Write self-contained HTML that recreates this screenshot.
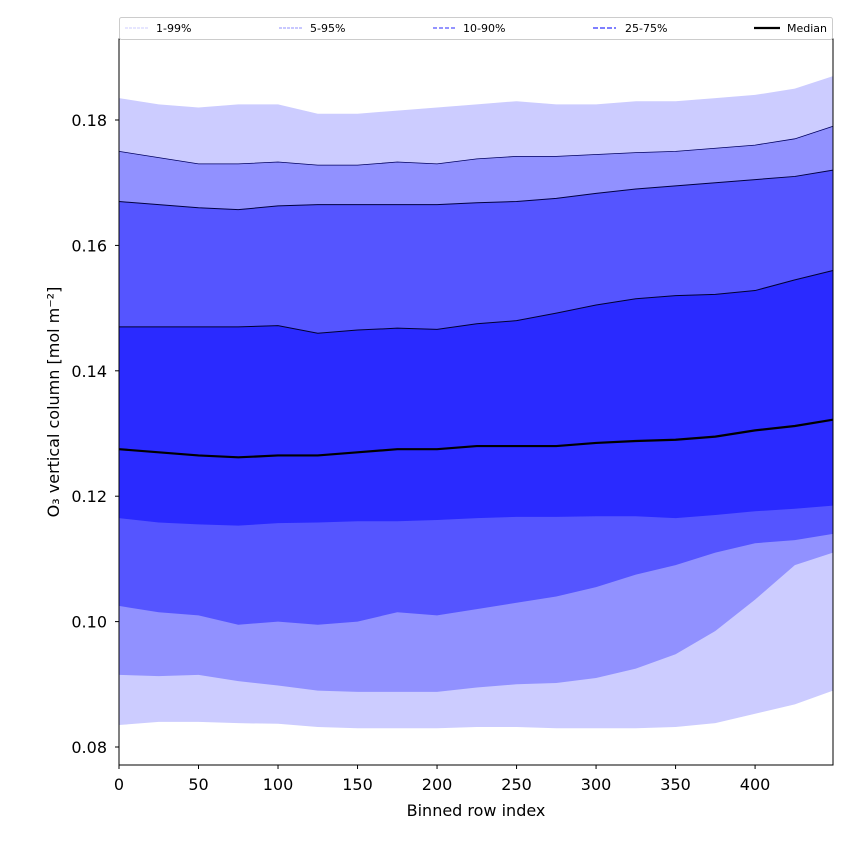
<!DOCTYPE html>
<html><head><meta charset="utf-8"><style>
body{margin:0;background:#fff}
svg text{font-family:"DejaVu Sans","Liberation Sans",sans-serif}
</style></head><body>
<svg id="c" width="850" height="850"></svg>
<script>
const xs=[0,25,50,75,100,125,150,175,200,225,250,275,300,325,350,375,400,425,449];
const p99=[0.1835,0.1825,0.182,0.1825,0.1825,0.181,0.181,0.1815,0.182,0.1825,0.183,0.1825,0.1825,0.183,0.183,0.1835,0.184,0.185,0.187];
const p95=[0.175,0.174,0.173,0.173,0.1733,0.1728,0.1728,0.1733,0.173,0.1738,0.1742,0.1742,0.1745,0.1748,0.175,0.1755,0.176,0.177,0.179];
const p90=[0.167,0.1665,0.166,0.1657,0.1663,0.1665,0.1665,0.1665,0.1665,0.1668,0.167,0.1675,0.1683,0.169,0.1695,0.17,0.1705,0.171,0.172];
const p75=[0.147,0.147,0.147,0.147,0.1472,0.146,0.1465,0.1468,0.1466,0.1475,0.148,0.1492,0.1505,0.1515,0.152,0.1522,0.1528,0.1545,0.156];
const p50=[0.1275,0.127,0.1265,0.1262,0.1265,0.1265,0.127,0.1275,0.1275,0.128,0.128,0.128,0.1285,0.1288,0.129,0.1295,0.1305,0.1312,0.1322];
const p25=[0.1165,0.1158,0.1155,0.1153,0.1157,0.1158,0.116,0.116,0.1162,0.1165,0.1167,0.1167,0.1168,0.1168,0.1165,0.117,0.1176,0.118,0.1185];
const p10=[0.1025,0.1015,0.101,0.0995,0.1,0.0995,0.1,0.1015,0.101,0.102,0.103,0.104,0.1055,0.1075,0.109,0.111,0.1125,0.113,0.114];
const p5=[0.0915,0.0913,0.0915,0.0905,0.0898,0.089,0.0888,0.0888,0.0888,0.0895,0.09,0.0902,0.091,0.0925,0.0948,0.0985,0.1035,0.109,0.111];
const p1=[0.0835,0.084,0.084,0.0838,0.0837,0.0832,0.083,0.083,0.083,0.0832,0.0832,0.083,0.083,0.083,0.0832,0.0838,0.0853,0.0868,0.089];
const xTicks=[0,50,100,150,200,250,300,350,400];
const yTicks=[0.08,0.10,0.12,0.14,0.16,0.18];

const L=119,R=833,T=39,B=765,X0=0,X1=449,Y0=0.07713,Y1=0.19292;
const sx=v=>L+(v-X0)/(X1-X0)*(R-L);
const sy=v=>B-(v-Y0)/(Y1-Y0)*(B-T);
const svg=document.getElementById('c');const NS='http://www.w3.org/2000/svg';
function mk(t,a,p){const e=document.createElementNS(NS,t);for(const k in a)e.setAttribute(k,a[k]);(p||svg).appendChild(e);return e;}
function band(lo,hi,fill,name){
  let d='M'+xs.map((x,i)=>sx(x)+','+sy(hi[i])).join('L');
  for(let i=xs.length-1;i>=0;i--)d+='L'+sx(xs[i])+','+sy(lo[i]);
  const e=mk('path',{d:d+'Z',fill:fill});
  
  
}
function line(arr,stroke,w,name){
  const e=mk('path',{d:'M'+xs.map((x,i)=>sx(x)+','+sy(arr[i])).join('L'),fill:'none',stroke:stroke,'stroke-width':w});
  
  
}
band(p1,p99,'#ccccff','band-1-99');
band(p5,p95,'#9191ff','band-5-95');
band(p10,p90,'#5555ff','band-10-90');
band(p25,p75,'#2a2aff','band-25-75');
line(p95,'#000060',0.8,'line-p95');
line(p90,'#000040',1,'line-p90');
line(p75,'#000030',1,'line-p75');
line(p50,'#000',2.2,'median-line');
const fr=mk('rect',{x:L,y:T,width:R-L,height:B-T,fill:'none',stroke:'#000','stroke-width':1});

xTicks.forEach(v=>{const x=sx(v);mk('line',{x1:x,x2:x,y1:B,y2:B+4,stroke:'#000'});
  const t=mk('text',{x:x,y:B+25,'text-anchor':'middle','font-size':16});t.textContent=v;
  });
yTicks.forEach(v=>{const y=sy(v);mk('line',{x1:L-4,x2:L,y1:y,y2:y,stroke:'#000'});
  const t=mk('text',{x:L-12,y:y+6,'text-anchor':'end','font-size':16});t.textContent=v.toFixed(2);
  });
</script>
<svg style="position:absolute;left:0;top:0" width="850" height="850">
<text x="476" y="816" text-anchor="middle" font-size="16">Binned row index</text>
<text transform="translate(59,402) rotate(-90)" text-anchor="middle" font-size="16">O₃ vertical column [mol m⁻²]</text>
<g>
<rect x="119.5" y="17.5" width="713" height="22" fill="#fff" stroke="#ccc" rx="2"/>
<line x1="125" x2="148" y1="28" y2="28" stroke="#ccccff" stroke-dasharray="3,1"/>
<text x="156" y="32" font-size="11">1-99%</text>
<line x1="279" x2="302" y1="28" y2="28" stroke="#9191ff" stroke-dasharray="3,1"/>
<text x="310" y="32" font-size="11">5-95%</text>
<line x1="433" x2="456" y1="28" y2="28" stroke="#5555ff" stroke-width="1.3" stroke-dasharray="4,2"/>
<text x="463" y="32" font-size="11">10-90%</text>
<line x1="593" x2="616" y1="28" y2="28" stroke="#2a2aff" stroke-opacity="0.6" stroke-width="2" stroke-dasharray="5,2"/>
<text x="625" y="32" font-size="11">25-75%</text>
<line x1="754" x2="780" y1="28" y2="28" stroke="#000" stroke-width="2.2"/>
<text x="787" y="32" font-size="11">Median</text>
</g>
</svg>
</body></html>
